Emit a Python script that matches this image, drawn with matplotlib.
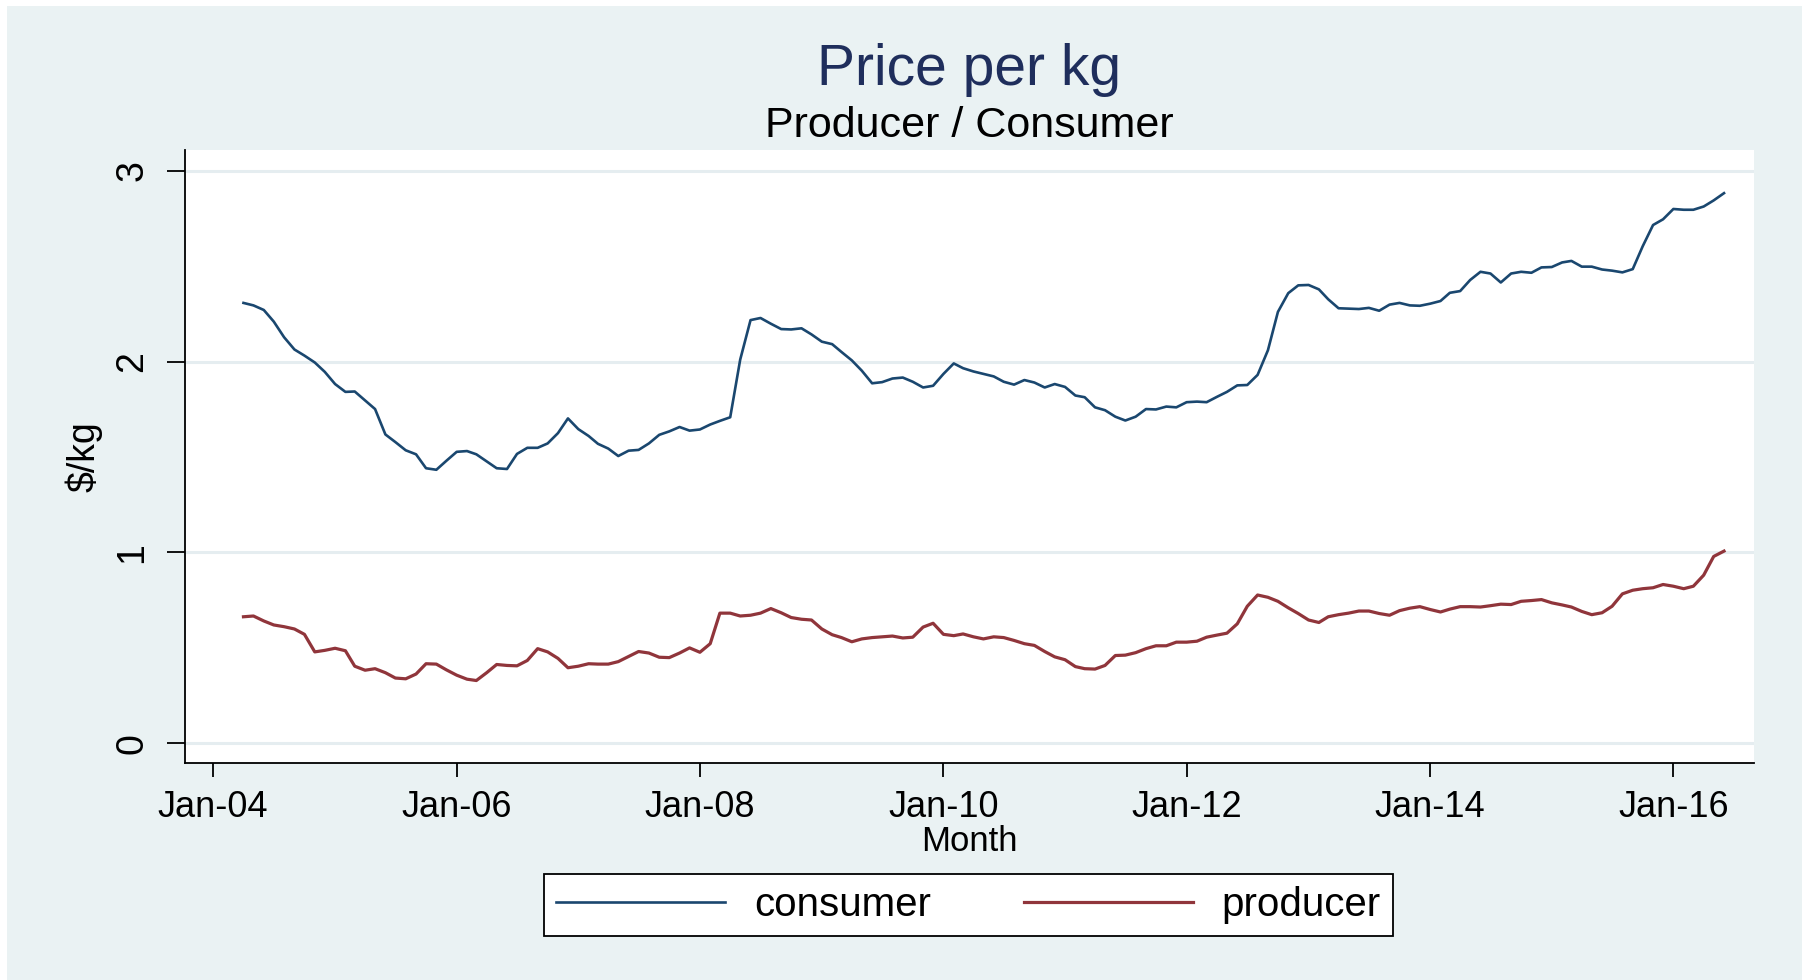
import matplotlib
matplotlib.use('Agg')
import matplotlib.pyplot as plt
import matplotlib.dates as mdates
from matplotlib.patches import Rectangle
import pandas as pd

plt.rcParams['font.family'] = ['Liberation Sans', 'DejaVu Sans']

# monthly prices, $/kg, Apr 2004 .. Jun 2016
start_month = '2004-04-01'
consumer = [
    2.307, 2.294, 2.27, 2.209, 2.127, 2.063, 2.031, 1.995, 1.946,
    1.882, 1.841, 1.843, 1.796, 1.751, 1.618, 1.578, 1.535, 1.514, 1.441, 1.433, 1.48,
    1.527, 1.531, 1.514, 1.477, 1.441, 1.437, 1.516, 1.548, 1.548, 1.571, 1.625, 1.702,
    1.646, 1.61, 1.569, 1.544, 1.505, 1.533, 1.537, 1.571, 1.616, 1.634, 1.657, 1.638,
    1.644, 1.67, 1.689, 1.708, 2.01, 2.217, 2.228, 2.198, 2.17, 2.168, 2.174, 2.142,
    2.104, 2.091, 2.05, 2.006, 1.952, 1.886, 1.892, 1.911, 1.916, 1.894, 1.864, 1.873,
    1.935, 1.99, 1.965, 1.948, 1.935, 1.922, 1.894, 1.879, 1.903, 1.89, 1.864, 1.882,
    1.867, 1.822, 1.813, 1.76, 1.745, 1.711, 1.691, 1.711, 1.751, 1.749, 1.764, 1.76,
    1.787, 1.79, 1.787, 1.815, 1.841, 1.875, 1.877, 1.93, 2.059, 2.26, 2.358, 2.399,
    2.401, 2.378, 2.326, 2.279, 2.277, 2.275, 2.281, 2.266, 2.298, 2.307, 2.294, 2.292,
    2.303, 2.317, 2.36, 2.369, 2.427, 2.47, 2.461, 2.414, 2.461, 2.47, 2.465, 2.493,
    2.495, 2.519, 2.527, 2.497, 2.497, 2.482, 2.476, 2.467, 2.484, 2.604, 2.715, 2.745,
    2.799, 2.795, 2.795, 2.812, 2.844, 2.882,
]
producer = [
    0.663, 0.667, 0.641, 0.62, 0.611, 0.599, 0.571, 0.479, 0.487,
    0.498, 0.485, 0.404, 0.383, 0.391, 0.37, 0.342, 0.338, 0.363, 0.417, 0.415, 0.385,
    0.357, 0.336, 0.329, 0.37, 0.413, 0.408, 0.406, 0.434, 0.496, 0.479, 0.445, 0.396,
    0.404, 0.417, 0.415, 0.415, 0.428, 0.455, 0.481, 0.473, 0.451, 0.449, 0.473, 0.5,
    0.477, 0.522, 0.682, 0.682, 0.667, 0.671, 0.682, 0.706, 0.684, 0.659, 0.65, 0.646,
    0.599, 0.569, 0.554, 0.532, 0.547, 0.554, 0.558, 0.562, 0.552, 0.556, 0.609, 0.629,
    0.571, 0.564, 0.573, 0.558, 0.547, 0.558, 0.554, 0.539, 0.522, 0.513, 0.481, 0.453,
    0.438, 0.402, 0.391, 0.389, 0.408, 0.46, 0.462, 0.475, 0.496, 0.511, 0.511, 0.53,
    0.53, 0.535, 0.556, 0.567, 0.577, 0.626, 0.718, 0.777, 0.765, 0.744, 0.71, 0.68,
    0.646, 0.633, 0.663, 0.674, 0.682, 0.693, 0.693, 0.68, 0.671, 0.695, 0.708, 0.716,
    0.701, 0.688, 0.703, 0.716, 0.716, 0.714, 0.721, 0.729, 0.727, 0.744, 0.748, 0.753,
    0.736, 0.725, 0.714, 0.691, 0.674, 0.684, 0.718, 0.783, 0.802, 0.81, 0.815, 0.832,
    0.823, 0.81, 0.823, 0.881, 0.979, 1.007,
]
months = pd.date_range(start_month, periods=len(consumer), freq='MS')

bg = '#eaf2f3'
W, H = 1807, 980
fig = plt.figure(figsize=(W / 100, H / 100), dpi=100, facecolor='white')
# stata-like outer panel
fig.patches.append(Rectangle((7 / W, 0), 1795 / W, 974 / H, transform=fig.transFigure,
                             facecolor=bg, edgecolor='none', zorder=-10))

ax = fig.add_axes([184.5 / W, (H - 763) / H, (1754 - 184.5) / W, (763 - 150) / H])
ax.set_zorder(1)
ax.set_facecolor('white')
ax.plot(months, consumer, color='#1a476f', lw=1.9, label='consumer')
ax.plot(months, producer, color='#90353b', lw=2.3, label='producer')

ax.set_xlim(pd.Timestamp('2003-10-07'), pd.Timestamp('2016-08-30'))
ax.set_ylim(-0.103, 3.108)
ax.set_yticks([0, 1, 2, 3])
ax.xaxis.set_major_locator(mdates.YearLocator(2))
ax.xaxis.set_major_formatter(mdates.DateFormatter('%b-%y'))
ax.grid(axis='y', color='#e5edf0', lw=2.2)
ax.set_axisbelow(True)
for s in ['top', 'right']:
    ax.spines[s].set_visible(False)
for s in ['left', 'bottom']:
    ax.spines[s].set_linewidth(1.3)
ax.tick_params(axis='x', length=10, width=1.3, pad=9.5, labelsize=26)
ax.tick_params(axis='y', length=12.7, width=1.3, pad=12, labelsize=27, labelrotation=90)
plt.setp(ax.get_yticklabels(), va='center')

ax.set_ylabel(r'\$/kg', fontsize=27, va='center')
ax.yaxis.set_label_coords((84 - 184.5) / (1754 - 184.5), 0.5)
ax.set_xlabel('Month', fontsize=25, va='baseline')
ax.xaxis.set_label_coords(0.5, (129 - 217) / 613)

fig.text(969 / W, (H - 85) / H, 'Price per kg', ha='center', va='baseline',
         fontsize=41, color='#1f2e5c')
fig.text(969 / W, (H - 137.3) / H, 'Producer / Consumer', ha='center', va='baseline',
         fontsize=31, color='black')

leg = fig.legend(loc='center', bbox_to_anchor=(968.5 / W, (H - 905.3) / H), ncol=2,
                 fontsize=29, frameon=True, fancybox=False, edgecolor='black',
                 facecolor='white', framealpha=1, handlelength=4.2, handletextpad=0.72,
                 columnspacing=2.3, borderpad=0.3)
leg.get_frame().set_linewidth(1.3)

fig.savefig('out.png', dpi=100, facecolor='white')
